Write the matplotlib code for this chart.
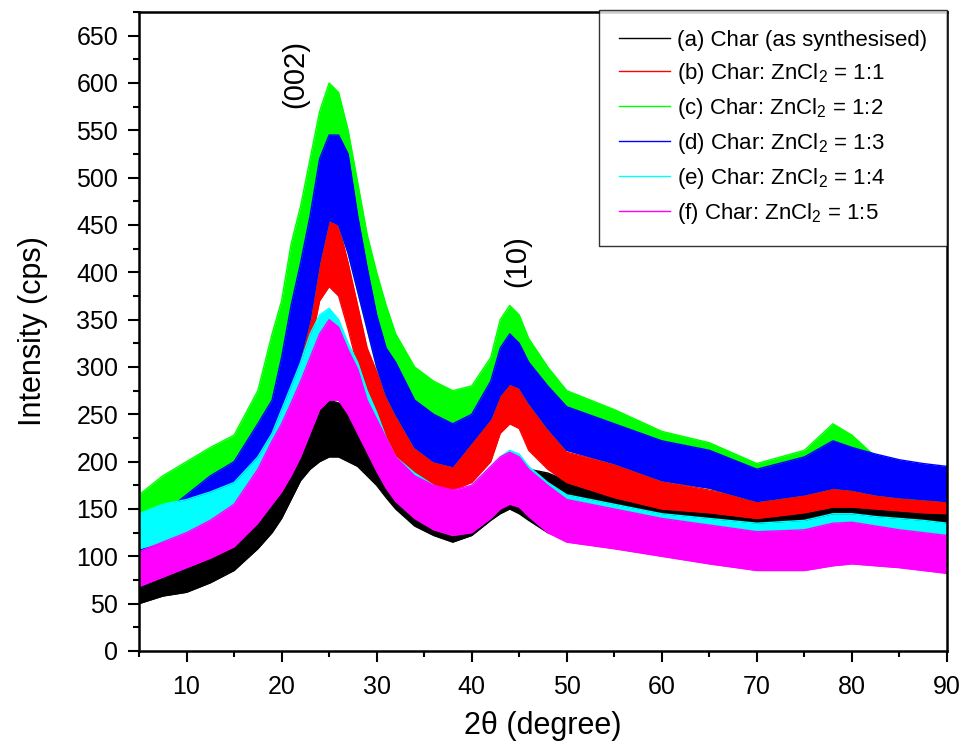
import matplotlib
matplotlib.use('Agg')
import matplotlib.pyplot as plt
from matplotlib.ticker import MultipleLocator

plt.rcParams['font.family'] = ['Liberation Sans', 'DejaVu Sans']
plt.rcParams['mathtext.fontset'] = 'custom'
plt.rcParams['mathtext.rm'] = 'Liberation Sans'
plt.rcParams['mathtext.it'] = 'Liberation Sans:italic'

two_theta = [5, 7.5, 10, 12.5, 15, 17.5, 19, 20, 21, 22, 23, 24, 25, 26, 27, 28, 29, 30,
             31, 32, 34, 36, 38, 40, 42, 43, 44, 45, 46, 48, 50, 55, 60, 65, 70, 75, 78,
             80, 82.5, 85, 87.5, 90]

# (a) Char (as synthesised) - lower / upper envelope of the noisy trace
a_lo = [50, 58, 62, 72, 85, 108, 125, 140, 160, 180, 192, 200, 205, 205, 200, 195, 185, 175,
        162, 150, 132, 122, 115, 122, 138, 145, 150, 145, 138, 125, 118, 110, 105, 102, 100, 102, 108,
        110, 110, 108, 105, 105]
a_hi = [95, 95, 100, 110, 120, 145, 162, 175, 200, 225, 245, 258, 265, 262, 258, 248, 235, 215,
        200, 188, 168, 158, 152, 160, 182, 192, 198, 195, 192, 188, 180, 165, 155, 152, 150, 150, 153,
        153, 153, 152, 150, 148]

# (b) Char : ZnCl2 = 1:1
b_lo = [95, 100, 108, 118, 130, 150, 170, 195, 240, 280, 320, 370, 385, 375, 340, 300, 265, 240,
        220, 205, 185, 175, 170, 178, 200, 230, 240, 235, 212, 192, 178, 162, 150, 146, 140, 146, 152,
        152, 150, 148, 146, 145]
b_hi = [120, 135, 148, 162, 178, 205, 230, 265, 320, 365, 410, 450, 460, 450, 410, 365, 320, 295,
        270, 250, 222, 215, 212, 222, 255, 290, 300, 290, 268, 235, 210, 198, 180, 170, 162, 178, 190,
        190, 186, 182, 178, 175]

# (c) Char : ZnCl2 = 1:2
c_lo = [90, 100, 115, 130, 150, 180, 200, 225, 270, 310, 350, 410, 455, 450, 420, 380, 340, 300,
        270, 250, 215, 200, 195, 220, 245, 270, 282, 278, 262, 235, 212, 198, 180, 172, 158, 165, 172,
        170, 165, 162, 160, 158]
c_hi = [165, 185, 200, 215, 228, 275, 335, 370, 430, 470, 520, 570, 600, 590, 550, 495, 440, 400,
        365, 335, 300, 285, 275, 280, 310, 350, 365, 355, 330, 300, 275, 255, 232, 220, 198, 212, 240,
        228, 205, 195, 190, 185]

# (d) Char : ZnCl2 = 1:3
d_lo = [90, 100, 115, 130, 150, 180, 200, 225, 270, 310, 350, 410, 455, 450, 420, 380, 340, 300,
        270, 250, 215, 200, 195, 220, 245, 270, 282, 278, 262, 235, 212, 198, 180, 172, 158, 165, 172,
        170, 165, 162, 160, 158]
d_hi = [130, 145, 165, 185, 200, 240, 265, 310, 365, 410, 460, 520, 545, 545, 525, 460, 405, 355,
        320, 305, 265, 250, 240, 250, 285, 320, 335, 325, 305, 280, 258, 240, 222, 212, 192, 205, 222,
        215, 208, 202, 198, 195]

# (e) Char : ZnCl2 = 1:4
e_lo = [108, 115, 120, 128, 138, 160, 185, 200, 225, 245, 270, 290, 295, 290, 270, 245, 225, 205,
        185, 170, 150, 135, 125, 130, 150, 160, 165, 160, 150, 135, 125, 115, 105, 100, 95, 95, 100,
        105, 105, 100, 98, 95]
e_hi = [145, 155, 160, 168, 178, 205, 230, 255, 280, 305, 335, 355, 362, 350, 325, 305, 275, 252,
        225, 205, 188, 175, 165, 175, 195, 205, 212, 208, 195, 178, 165, 155, 145, 140, 135, 138, 145,
        145, 142, 140, 138, 135]

# (f) Char : ZnCl2 = 1:5
f_lo = [68, 78, 88, 98, 110, 135, 155, 168, 185, 205, 230, 255, 265, 265, 250, 230, 210, 190,
        172, 158, 140, 128, 122, 125, 140, 150, 155, 152, 142, 125, 115, 108, 100, 92, 85, 85, 90,
        92, 90, 88, 85, 82]
f_hi = [105, 115, 125, 138, 155, 192, 222, 240, 262, 285, 310, 335, 350, 342, 318, 298, 265, 245,
        225, 205, 185, 175, 170, 175, 195, 205, 210, 205, 192, 175, 160, 150, 140, 133, 126, 128, 135,
        136, 132, 128, 125, 122]

labels = ["(a) Char (as synthesised)",
          r"(b) Char: ZnCl$_2$ = 1:1",
          r"(c) Char: ZnCl$_2$ = 1:2",
          r"(d) Char: ZnCl$_2$ = 1:3",
          r"(e) Char: ZnCl$_2$ = 1:4",
          r"(f) Char: ZnCl$_2$ = 1:5"]
colors = ["#000000", "#ff0000", "#00ff00", "#0000ff", "#00ffff", "#ff00ff"]
lows = [a_lo, b_lo, c_lo, d_lo, e_lo, f_lo]
highs = [a_hi, b_hi, c_hi, d_hi, e_hi, f_hi]

fig = plt.figure(figsize=(9.62, 7.44), dpi=100)
ax = fig.add_axes([139 / 962, 1 - 651 / 744, 808 / 962, 639 / 744])

for i, (lo, hi, col, lab) in enumerate(zip(lows, highs, colors, labels)):
    z = 2 + i
    ax.fill_between(two_theta, lo, hi, color=col, linewidth=0, zorder=z)
    ax.plot(two_theta, hi, color=col, lw=1.0, label=lab, zorder=z)
    ax.plot(two_theta, lo, color=col, lw=1.0, zorder=z)

ax.set_xlim(5, 90)
ax.set_ylim(0, 675)
ax.xaxis.set_major_locator(MultipleLocator(10))
ax.xaxis.set_minor_locator(MultipleLocator(5))
ax.yaxis.set_major_locator(MultipleLocator(50))
ax.yaxis.set_minor_locator(MultipleLocator(25))
ax.tick_params(axis='both', which='major', direction='out', length=8, width=1.5,
               labelsize=18, top=False, right=False)
ax.tick_params(axis='both', which='minor', direction='out', length=4.5, width=1.5,
               top=False, right=False)
ax.tick_params(axis='x', which='major', pad=9)
ax.tick_params(axis='y', which='major', pad=7)
for sp in ax.spines.values():
    sp.set_linewidth(1.8)
    sp.set_zorder(20)

ax.set_xlabel("2θ (degree)", fontsize=22, labelpad=9)
ax.set_ylabel("Intensity (cps)", fontsize=22, labelpad=20)

ax.text(21.4, 610, "(002)", rotation=90, ha='center', va='center', fontsize=21, zorder=20)
ax.text(44.8, 412, "(10)", rotation=90, ha='center', va='center', fontsize=21, zorder=20)

leg = ax.legend(loc='upper right', bbox_to_anchor=(1.0, 1.003), frameon=True, fancybox=False,
                edgecolor='black', fontsize=16, handlelength=2.3, handletextpad=0.3,
                borderpad=0.9, labelspacing=0.45, borderaxespad=0)
leg.get_frame().set_linewidth(1.0)
leg.set_zorder(30)

fig.savefig("out.png", dpi=100)
